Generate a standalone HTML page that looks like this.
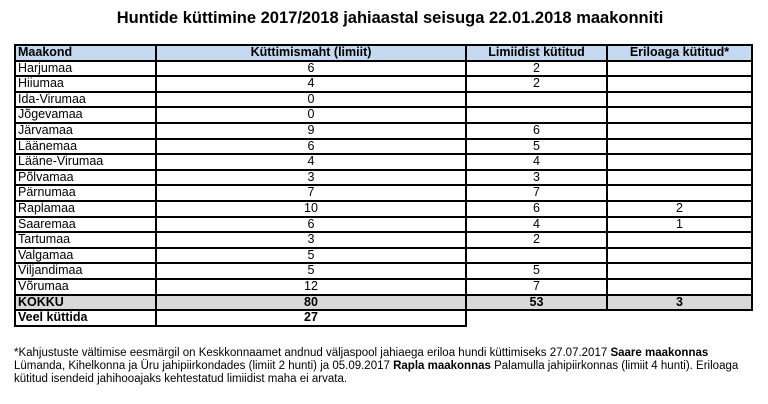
<!DOCTYPE html>
<html><head><meta charset="utf-8"><style>
body{margin:0;width:768px;height:404px;background:#fff;font-family:"Liberation Sans",Arial,sans-serif;color:#000;position:relative;overflow:hidden}
.t{position:absolute;top:9px;left:0;width:780px;text-align:center;font-weight:bold;font-size:16.5px}
table{position:absolute;left:14px;top:44px;border-collapse:collapse;font-size:12.5px;table-layout:fixed}
td{border:2px solid #000;height:13.6px;padding:0 2px;line-height:13.6px;text-align:center;white-space:nowrap;overflow:hidden}
td:first-child{text-align:left}
tr.h td{background:#c5d9f1;font-weight:bold}
tr.k td{background:#d9d9d9;font-weight:bold}
tr.v td{font-weight:bold}
tr.v td.e{border:none;border-top:2px solid #000}
.f{position:absolute;left:14px;top:347px;font-size:11.5px;line-height:13.2px;width:760px;white-space:nowrap}
</style></head><body>
<div class="t">Huntide küttimine 2017/2018 jahiaastal seisuga 22.01.2018 maakonniti</div>
<table>
<colgroup><col style="width:141px"><col style="width:310px"><col style="width:141px"><col style="width:145px"></colgroup>
<tr class="h"><td>Maakond</td><td>Küttimismaht (limiit)</td><td>Limiidist kütitud</td><td>Eriloaga kütitud*</td></tr>
<tr><td>Harjumaa</td><td>6</td><td>2</td><td></td></tr>
<tr><td>Hiiumaa</td><td>4</td><td>2</td><td></td></tr>
<tr><td>Ida-Virumaa</td><td>0</td><td></td><td></td></tr>
<tr><td>Jõgevamaa</td><td>0</td><td></td><td></td></tr>
<tr><td>Järvamaa</td><td>9</td><td>6</td><td></td></tr>
<tr><td>Läänemaa</td><td>6</td><td>5</td><td></td></tr>
<tr><td>Lääne-Virumaa</td><td>4</td><td>4</td><td></td></tr>
<tr><td>Põlvamaa</td><td>3</td><td>3</td><td></td></tr>
<tr><td>Pärnumaa</td><td>7</td><td>7</td><td></td></tr>
<tr><td>Raplamaa</td><td>10</td><td>6</td><td>2</td></tr>
<tr><td>Saaremaa</td><td>6</td><td>4</td><td>1</td></tr>
<tr><td>Tartumaa</td><td>3</td><td>2</td><td></td></tr>
<tr><td>Valgamaa</td><td>5</td><td></td><td></td></tr>
<tr><td>Viljandimaa</td><td>5</td><td>5</td><td></td></tr>
<tr><td>Võrumaa</td><td>12</td><td>7</td><td></td></tr>
<tr class="k"><td>KOKKU</td><td>80</td><td>53</td><td>3</td></tr>
<tr class="v"><td>Veel küttida</td><td>27</td><td class="e"></td><td class="e"></td></tr>
</table>
<div class="f">*Kahjustuste vältimise eesmärgil on Keskkonnaamet andnud väljaspool jahiaega eriloa hundi küttimiseks 27.07.2017 <b>Saare maakonnas</b><br>Lümanda, Kihelkonna ja Üru jahipiirkondades (limiit 2 hunti) ja 05.09.2017 <b>Rapla maakonnas</b> Palamulla jahipiirkonnas (limiit 4 hunti). Eriloaga<br>kütitud isendeid jahihooajaks kehtestatud limiidist maha ei arvata.</div>
</body></html>
